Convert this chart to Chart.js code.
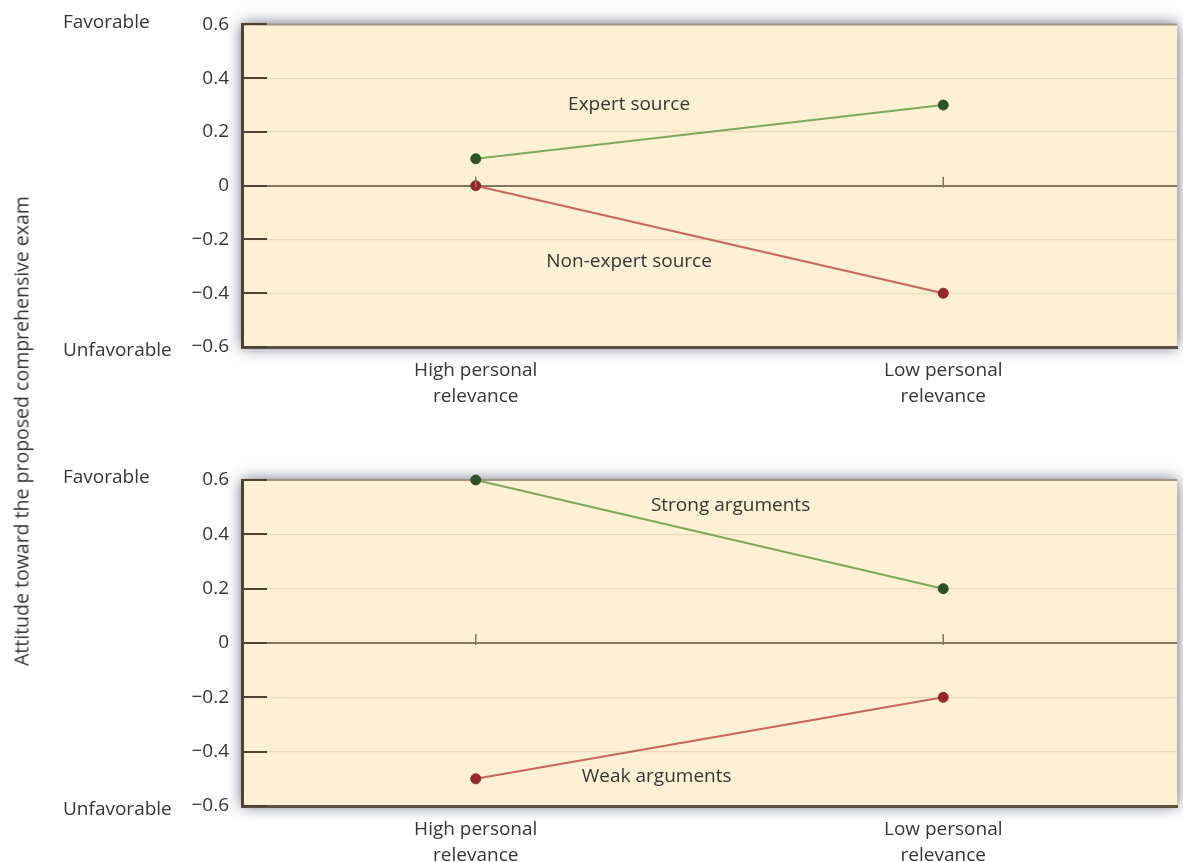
<!DOCTYPE html>
<html>
<head>
<meta charset="utf-8">
<script src="https://cdn.jsdelivr.net/npm/chart.js@4.4.1/dist/chart.umd.min.js"></script>
<style>
  html, body { margin: 0; padding: 0; background: #ffffff; }
  #wrap { position: relative; width: 1183px; height: 862px; overflow: hidden; background: #fff; }
  .cv { position: absolute; left: 0; }
  #ytitle {
    position: absolute; left: 21px; top: 431px;
    transform: translate(-50%, -50%) rotate(-90deg);
    white-space: nowrap; font-family: "Open Sans", sans-serif; font-size: 19.5px; color: #363636;
  }
</style>
</head>
<body>
<div id="wrap">
  <div class="cv" style="top:0px;width:1183px;height:420px;"><canvas id="c1"></canvas></div>
  <div class="cv" style="top:440px;width:1183px;height:422px;"><canvas id="c2"></canvas></div>
  <div id="ytitle">Attitude toward the proposed comprehensive exam</div>
</div>
<script>
// ---- data ----
const categories = [['High personal', 'relevance'], ['Low personal', 'relevance']];
const expertSource = [0.1, 0.3];
const nonExpertSource = [0, -0.4];
const strongArguments = [0.6, 0.2];
const weakArguments = [-0.5, -0.2];
const yTickValues = [-0.6, -0.4, -0.2, 0, 0.2, 0.4, 0.6];
const favorableLabel = 'Favorable';
const unfavorableLabel = 'Unfavorable';
const topSeriesNames = ['Expert source', 'Non-expert source'];
const bottomSeriesNames = ['Strong arguments', 'Weak arguments'];
// label anchors: [fraction between categories, y value]
const topLabelAnchors = [[0.328, 0.300], [0.328, -0.282]];
const bottomLabelAnchors = [[0.545, 0.504], [0.387, -0.49]];

// ---- styles ----
const FONT = '"Open Sans", sans-serif';
const FS = 19;
const TEXT = '#363636';
const BG = '#fdf0d4';
const GRID = '#eadbbd';
const ZERO = '#857660';
const AXIS = '#4f4232';
const GREEN_LINE = '#7ea85e';
const GREEN_PT = '#2d5229';
const RED_LINE = '#c9665a';
const RED_PT = '#962629';

function fmt(v) {
  const r = Math.round(v * 10) / 10;
  if (r === 0) return '0';
  return (r < 0 ? '\u2212' : '') + Math.abs(r).toFixed(1);
}

const decorPlugin = {
  id: 'decor',
  beforeDraw(chart) {
    const {ctx, chartArea: a} = chart;
    ctx.save();
    ctx.shadowColor = 'rgba(40,45,70,0.75)';
    ctx.shadowBlur = 14;
    ctx.fillStyle = BG;
    ctx.fillRect(a.left, a.top, a.right - a.left, a.bottom - a.top);
    ctx.restore();
    ctx.save();
    ctx.fillStyle = BG;
    ctx.fillRect(a.left, a.top, a.right - a.left, a.bottom - a.top);
    ctx.strokeStyle = '#a39684';
    ctx.lineWidth = 2;
    ctx.beginPath();
    ctx.moveTo(a.left, a.top);
    ctx.lineTo(a.right, a.top);
    ctx.stroke();
    ctx.restore();
  },
  afterDraw(chart, args, opts) {
    const {ctx, chartArea: a} = chart;
    const ys = chart.scales.y, xs = chart.scales.x;
    ctx.save();
    ctx.strokeStyle = AXIS;
    ctx.lineWidth = 2;
    yTickValues.forEach(v => {
      const y = Math.round(ys.getPixelForValue(v));
      ctx.beginPath();
      ctx.moveTo(a.left, y);
      ctx.lineTo(a.left + 25, y);
      ctx.stroke();
    });
    const y0 = ys.getPixelForValue(0);
    ctx.strokeStyle = ZERO;
    ctx.lineWidth = 1.5;
    categories.forEach((c, i) => {
      const x = xs.getPixelForValue(i);
      ctx.beginPath();
      ctx.moveTo(x, y0 - 9);
      ctx.lineTo(x, y0 + 2);
      ctx.stroke();
    });
    ctx.fillStyle = TEXT;
    ctx.font = FS + 'px ' + FONT;
    ctx.textAlign = 'left';
    ctx.textBaseline = 'middle';
    ctx.fillText(favorableLabel, a.left - 179, ys.getPixelForValue(0.6) - 2);
    ctx.fillText(unfavorableLabel, a.left - 179, ys.getPixelForValue(-0.6) + 4);
    ctx.textAlign = 'center';
    const x0 = xs.getPixelForValue(0), x1 = xs.getPixelForValue(1);
    opts.names.forEach((n, i) => {
      const [f, v] = opts.anchors[i];
      ctx.fillText(n, x0 + (x1 - x0) * f, ys.getPixelForValue(v));
    });
    ctx.restore();
  }
};

function makeChart(id, s1, s2, names, anchors, padTop, xAxisH) {
  return new Chart(document.getElementById(id), {
    type: 'line',
    data: {
      labels: categories,
      datasets: [
        { label: names[0], data: s1, borderColor: GREEN_LINE, borderWidth: 2,
          pointBackgroundColor: GREEN_PT, pointBorderColor: GREEN_PT, pointRadius: 5, pointBorderWidth: 1,
          tension: 0, clip: false },
        { label: names[1], data: s2, borderColor: RED_LINE, borderWidth: 2,
          pointBackgroundColor: RED_PT, pointBorderColor: RED_PT, pointRadius: 5, pointBorderWidth: 1,
          tension: 0, clip: false }
      ]
    },
    options: {
      responsive: true,
      maintainAspectRatio: false,
      animation: false,
      devicePixelRatio: 1,
      layout: { padding: { top: padTop, right: -7, left: 1, bottom: 0 } },
      plugins: {
        legend: { display: false },
        tooltip: { enabled: false },
        decor: { names: names, anchors: anchors }
      },
      scales: {
        x: {
          type: 'category',
          offset: true,
          grid: { display: false, drawTicks: false },
          border: { display: true, color: '#5e503f', width: 3 },
          ticks: { color: TEXT, font: { family: FONT, size: FS, lineHeight: 1.35 }, padding: 11, maxRotation: 0 },
          afterFit(scale) { scale.height = xAxisH; }
        },
        y: {
          min: -0.6, max: 0.6,
          afterBuildTicks(scale) { scale.ticks = yTickValues.map(v => ({ value: v })); },
          grid: {
            drawTicks: false,
            color: c => {
              const v = c.tick ? Math.round(c.tick.value * 10) / 10 : null;
              if (v === 0) return ZERO;
              if (v === 0.6 || v === -0.6) return 'rgba(0,0,0,0)';
              return GRID;
            },
            lineWidth: c => (c.tick && Math.round(c.tick.value * 10) === 0) ? 2 : 1.2
          },
          border: { display: true, color: AXIS, width: 3 },
          ticks: { color: TEXT, font: { family: FONT, size: FS }, padding: 13, callback: v => fmt(v) },
          afterFit(scale) { scale.width = 241; }
        }
      }
    },
    plugins: [decorPlugin]
  });
}

makeChart('c1', expertSource, nonExpertSource, topSeriesNames, topLabelAnchors, 21, 73);
makeChart('c2', strongArguments, weakArguments, bottomSeriesNames, bottomLabelAnchors, 40, 56);
</script>
</body>
</html>
